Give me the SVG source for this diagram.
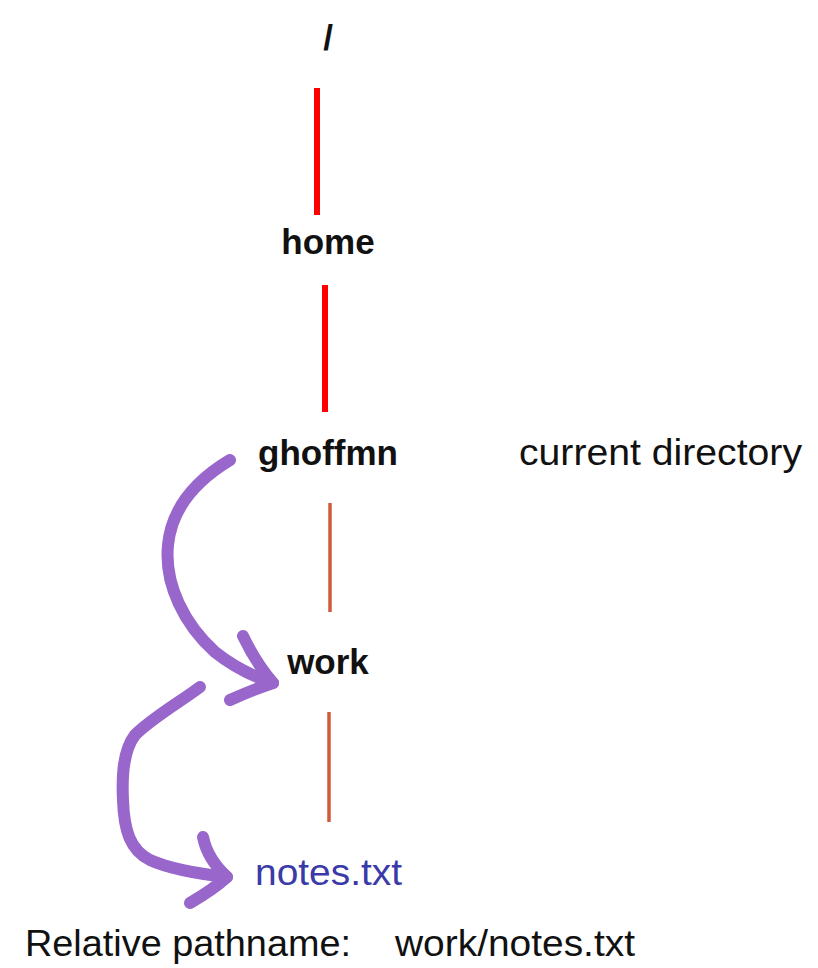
<svg xmlns="http://www.w3.org/2000/svg" width="818" height="968" viewBox="0 0 818 968">
  <style>
    .dir { font-family: "Liberation Sans", Arial, sans-serif; font-weight: bold; font-size: 35px; fill: #111; text-anchor: middle; }
    .lbl { font-family: "Liberation Sans", Arial, sans-serif; font-size: 36px; fill: #111; }
    .file { font-family: "Liberation Sans", Arial, sans-serif; font-size: 36px; fill: #3a3aa8; }
    .abs { stroke: #ff0000; stroke-width: 6; fill: none; }
    .rel { stroke: #d05a3c; stroke-width: 3.5; fill: none; }
    .hand { stroke: #9966cc; stroke-width: 12; fill: none; stroke-linecap: round; stroke-linejoin: round; }
  </style>
  <rect width="818" height="968" fill="#ffffff"/>

  <g id="connectors">
    <line class="abs" x1="317" y1="88" x2="317" y2="215"/>
    <line class="abs" x1="325" y1="285" x2="325" y2="412"/>
    <line class="rel" x1="330" y1="503" x2="330" y2="612"/>
    <line class="rel" x1="329" y1="712" x2="329" y2="822"/>
  </g>

  <g id="root"><text class="dir" x="328" y="50" font-size="40">/</text></g>
  <g id="home"><text class="dir" x="328" y="254">home</text></g>
  <g id="ghoffmn"><text class="dir" x="328" y="465">ghoffmn</text></g>
  <g id="current-label"><text class="lbl" x="519" y="465" textLength="283" lengthAdjust="spacingAndGlyphs">current directory</text></g>
  <g id="work"><text class="dir" x="328" y="674">work</text></g>
  <g id="notes"><text class="file" x="255" y="885" textLength="147" lengthAdjust="spacingAndGlyphs">notes.txt</text></g>
  <g id="relative-path">
    <text class="lbl" x="25" y="956" textLength="326" lengthAdjust="spacingAndGlyphs">Relative pathname:</text>
    <text class="lbl" x="395" y="956" textLength="240" lengthAdjust="spacingAndGlyphs">work/notes.txt</text>
  </g>

  <g id="hand-arrows">
    <path class="hand" d="M230,460 C200,478 172,505 168,545 C164,585 185,625 215,652 C235,668 255,677 273,683"/>
    <path class="hand" d="M243,636 C252,655 262,670 273,683 C258,688 243,694 230,700"/>
    <path class="hand" d="M200,687 C180,702 152,718 135,735 C122,752 122,780 123,800 C124,830 130,850 150,860 C172,870 200,874 227,877"/>
    <path class="hand" d="M203,837 C206,852 215,866 227,877 C215,888 202,896 190,903"/>
  </g>
</svg>
